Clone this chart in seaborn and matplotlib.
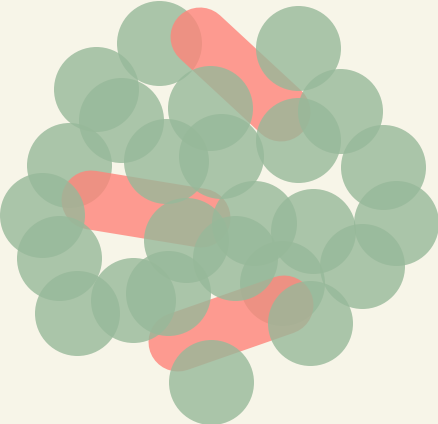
import matplotlib
matplotlib.use("Agg")
import matplotlib.pyplot as plt
import seaborn as sns
import pandas as pd

# circle centres (pixel coordinates of the reference)
circle_x = [158.5, 297.5, 96, 121, 210, 340, 297.5, 166, 221, 69, 383, 42, 186,
            254, 313, 396, 59, 235, 282, 362, 77, 133, 167.5, 310, 211]
circle_y = [42.5, 47.5, 88.5, 120, 108, 111, 140, 161, 156, 165, 167, 215, 240,
            223, 231, 223, 258, 258, 283, 266, 313, 300, 293, 323, 382]
# circles that sit underneath the red bars
below_bars = [0, 9, 18]

# red bars: start and end points
bar_x0 = [200, 91, 178]
bar_y0 = [37, 200, 342]
bar_x1 = [281, 201, 284]
bar_y1 = [112, 218, 305]

W, H, DPI = 438, 424, 100
BG = "#f7f5e8"
GREEN = "#97b99a"
RED = "#ff847a"
PT = 72 / DPI  # points per pixel

sns.set_theme(style="white")
fig = plt.figure(figsize=(W / DPI, H / DPI), dpi=DPI, facecolor=BG)
ax = fig.add_axes([0, 0, 1, 1])
ax.set_facecolor(BG)

df = pd.DataFrame({"x": circle_x, "y": circle_y})
df["layer"] = ["below" if i in below_bars else "above" for i in range(len(df))]

diam = 85 * PT
sns.scatterplot(data=df[df.layer == "below"], x="x", y="y", s=diam ** 2,
                color=GREEN, alpha=0.8, linewidth=0, ax=ax, zorder=1, legend=False)
for x0, y0, x1, y1 in zip(bar_x0, bar_y0, bar_x1, bar_y1):
    ax.plot([x0, x1], [y0, y1], color=RED, alpha=0.8, lw=59 * PT,
            solid_capstyle="round", zorder=2)
sns.scatterplot(data=df[df.layer == "above"], x="x", y="y", s=diam ** 2,
                color=GREEN, alpha=0.8, linewidth=0, ax=ax, zorder=3, legend=False)

ax.set_xlim(0, W)
ax.set_ylim(H, 0)
ax.set_axis_off()
fig.savefig("out.png", dpi=DPI, facecolor=BG)
